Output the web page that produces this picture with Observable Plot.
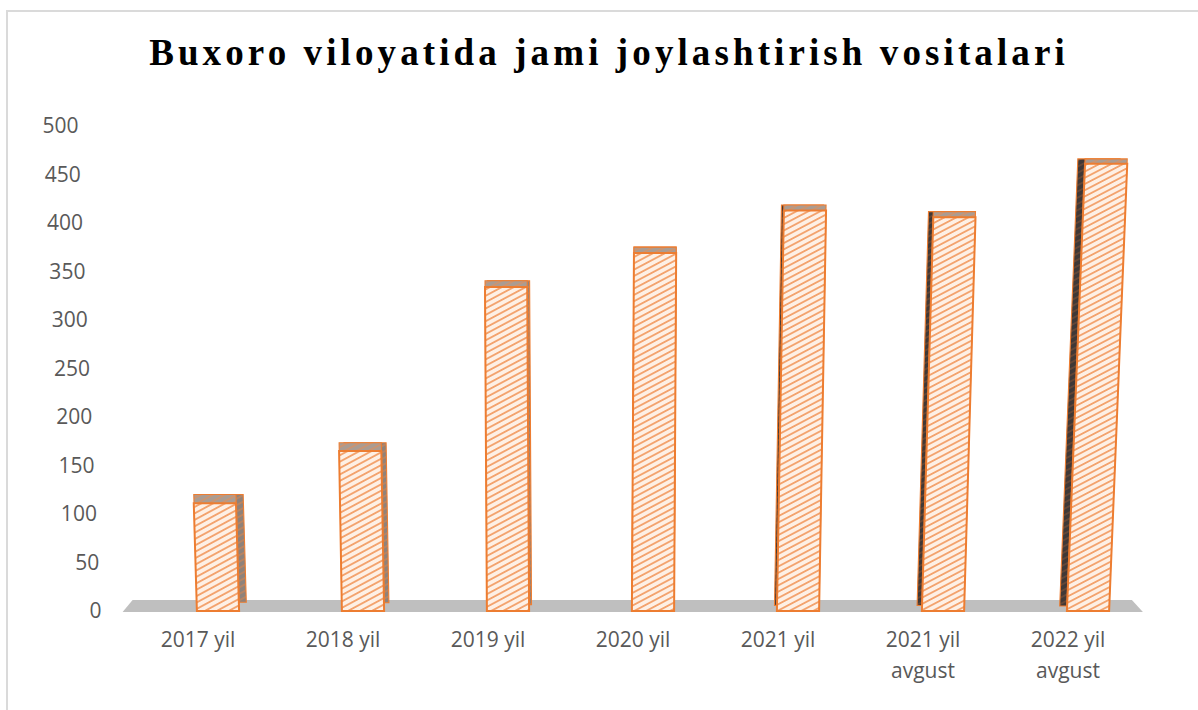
<!DOCTYPE html>
<html>
<head>
<meta charset="utf-8">
<script src="https://cdn.jsdelivr.net/npm/d3@7"></script>
<script src="https://cdn.jsdelivr.net/npm/@observablehq/plot@0.6"></script>
<style>
  html, body { margin: 0; padding: 0; background: #ffffff; }
  body { width: 1198px; height: 710px; position: relative; overflow: hidden; }
  #frame { position: absolute; left: 6px; top: 10px; width: 1300px; height: 800px; border: 2px solid #dadada; box-sizing: border-box; }
  #title { position: absolute; left: 0; top: 34px; width: 1218px; text-align: center;
           font-family: "Liberation Serif", "Times New Roman", serif; font-weight: bold;
           font-size: 37px; line-height: 37px; letter-spacing: 4.1px; color: #000; }
  #chart { position: absolute; left: 0; top: 0; }
</style>
</head>
<body>
<div id="frame"></div>
<div id="title">Buxoro viloyatida jami joylashtirish vositalari</div>
<div id="chart"></div>
<script>
// ---- data ----
const categories = ["2017 yil", "2018 yil", "2019 yil", "2020 yil", "2021 yil", "2021 yil\navgust", "2022 yil\navgust"];
const values = [111, 165, 334, 369, 413, 406, 461];
const yTicks = [0, 50, 100, 150, 200, 250, 300, 350, 400, 450, 500];

// ---- styles ----
const ORANGE = "#ed7d31";
const LABEL = "#595959";

const rows = categories.map((c, i) => ({cat: c, value: values[i], i}));

// pattern definitions (hatch fills)
const defsMark = () => {
  const g = d3.create("svg:g");
  const defs = g.append("defs");
  function pat(id, bg, line, lw) {
    const p = defs.append("pattern")
      .attr("id", id)
      .attr("patternUnits", "userSpaceOnUse")
      .attr("width", 8).attr("height", 5.6)
      .attr("patternTransform", "rotate(-28)");
    p.append("rect").attr("width", 8).attr("height", 5.6).attr("fill", bg);
    p.append("line").attr("x1", 0).attr("x2", 8).attr("y1", 2.8).attr("y2", 2.8)
      .attr("stroke", line).attr("stroke-width", lw);
  }
  pat("pFront", "#fef0e5", "#f29c62", 1.7);
  pat("pSide", "#8f827a", "#d98550", 1.0);
  pat("pDark", "#3f3836", "#8a5535", 0.9);
  pat("pTop", "#aa9c92", "#e68e55", 1.0);
  return g.node();
};

// gray floor (perspective band along the category axis)
const floorMark = (index, scales, vals, dims) => {
  const y0 = scales.y(0);
  const x0 = dims.marginLeft, x1 = dims.width - dims.marginRight;
  return d3.create("svg:polygon")
    .attr("points", `${x0},${y0 + 1} ${x1},${y0 + 1} ${x1 - 11},${y0 - 11} ${x0 + 10},${y0 - 11}`)
    .attr("fill", "#bfbfbf")
    .node();
};

const barMarks = rows.flatMap(r => {
  const dx = (3 - r.i) * 2.4;                  // perspective depth shift
  const dy = -(10 - 1.1 * r.value / 100);      // top face depth
  const side = r.i < 3 ? "url(#pSide)" : "url(#pDark)";
  const common = {x: "cat", y: "value", insetLeft: 71.9, insetRight: 30.9, stroke: ORANGE};
  return [
    Plot.barY([r], {...common, dx, dy, fill: side, strokeWidth: 1.1}),
    Plot.barY([r], {...common, dy, fill: "url(#pTop)", strokeWidth: 1.1}),
    Plot.barY([r], {...common, fill: "url(#pFront)", strokeWidth: 2})
  ];
});

const yAxisMarks = yTicks.map(t =>
  Plot.axisY({ticks: [t], tickSize: 0, tickPadding: 21.6, dx: -t / 500 * 23,
              fontSize: 21, fill: LABEL, label: null, tickFormat: d => String(d)})
);

const chart = Plot.plot({
  width: 1198,
  height: 710,
  marginLeft: 122.6,
  marginRight: 55.1,
  marginTop: 126,
  marginBottom: 99,
  style: {fontFamily: "'Open Sans', sans-serif", fontSize: "21px", color: LABEL, background: "transparent", overflow: "visible"},
  x: {domain: categories, padding: 0, label: null},
  y: {domain: [0, 500], label: null},
  marks: [
    defsMark,
    floorMark,
    ...barMarks,
    ...yAxisMarks,
    Plot.axisX({tickSize: 0, tickPadding: 14, fontSize: 21, lineHeight: 1.45, fill: LABEL, label: null})
  ]
});

document.getElementById("chart").appendChild(chart);

// slight perspective lean of the bars (3-D look)
const y0 = chart.scale("y").apply(0);
const xv = chart.scale("x").apply(categories[3]) + 21;
chart.querySelectorAll('g[fill^="url(#p"] rect').forEach(rect => {
  const xc = +rect.getAttribute("x") + (+rect.getAttribute("width")) / 2;
  const t = -8e-5 * (xc - xv);
  const a = Math.atan(t) * 180 / Math.PI;
  rect.setAttribute("transform", `translate(0,${y0}) skewX(${a}) translate(0,${-y0})`);
});
</script>
</body>
</html>
